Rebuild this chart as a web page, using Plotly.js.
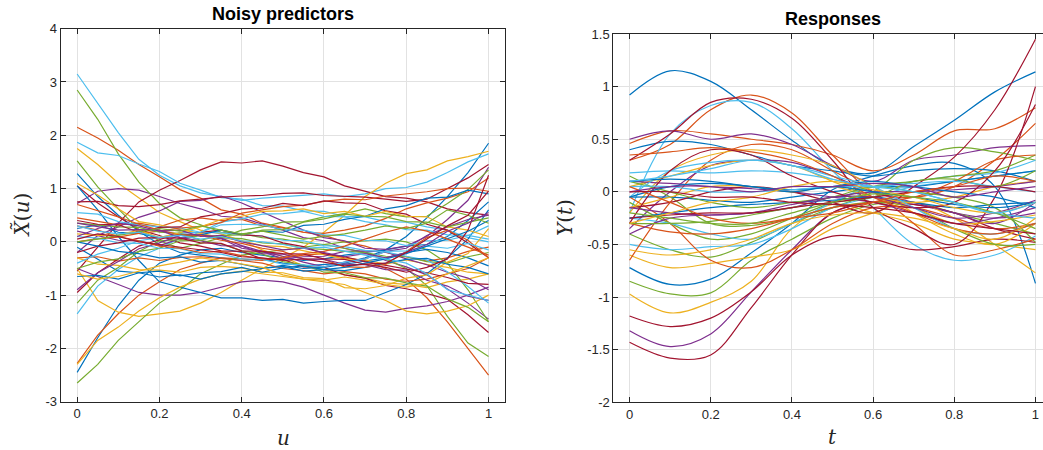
<!DOCTYPE html>
<html>
<head>
<meta charset="utf-8">
<script src="https://cdn.plot.ly/plotly-3.0.1.min.js"></script>
<style>html,body{margin:0;padding:0;overflow:hidden;background:#fff;}#chart{width:1052px;height:450px;}</style>
</head>
<body>
<div id="chart"></div>
<script>
// grid of evaluation points
const uGrid = [0,0.05,0.1,0.15,0.2,0.25,0.3,0.35,0.4,0.45,0.5,0.55,0.6,0.65,0.7,0.75,0.8,0.85,0.9,0.95,1];
const tGrid = [0,0.1,0.2,0.3,0.4,0.5,0.6,0.7,0.8,0.9,1];

// MATLAB default colour order
const lineColors = ['#0072BD','#D95319','#EDB120','#7E2F8E','#77AC30','#4DBEEE','#A2142F'];

// left panel: noisy predictors X~(u) (values at uGrid)
const noisyPredictors = [
  [1.28,0.85,0.5,0.2,-0.05,-0.2,-0.25,-0.3,-0.35,-0.32,-0.4,-0.45,-0.42,-0.4,-0.3,-0.15,0.1,0.45,0.85,1.3,1.85],
  [2.15,1.95,1.72,1.45,1.22,0.98,0.82,0.6,0.52,0.35,0.27,0.18,0.12,0.0,-0.08,-0.2,-0.28,-0.36,-0.3,-0.18,-0.1],
  [1.75,1.45,1.1,0.82,0.55,0.38,0.22,0.15,0.02,-0.15,-0.28,-0.45,-0.52,-0.62,-0.68,-0.77,-0.8,-0.86,-0.75,-0.7,-0.6],
  [0.72,0.95,1.0,0.97,0.85,0.72,0.62,0.48,0.45,0.33,0.22,0.08,0.02,-0.12,-0.2,-0.35,-0.47,-0.62,-0.88,-1.15,-1.45],
  [2.85,2.3,1.65,1.12,0.72,0.45,0.32,0.18,0.15,0.08,0.05,-0.02,-0.05,-0.12,-0.2,-0.32,-0.5,-0.82,-1.4,-1.9,-2.15],
  [3.15,2.6,2.05,1.55,1.25,1.05,0.92,0.85,0.78,0.82,0.85,0.87,0.9,0.85,0.9,1.0,1.02,1.12,1.3,1.5,1.65],
  [-0.55,-0.1,0.35,0.75,0.97,1.15,1.35,1.5,1.48,1.52,1.42,1.3,1.22,1.05,0.95,0.85,0.82,0.75,0.62,0.55,0.5],

  [-2.45,-1.8,-1.2,-0.72,-0.4,-0.25,-0.15,-0.12,-0.2,-0.25,-0.3,-0.35,-0.32,-0.25,-0.2,-0.15,-0.08,-0.05,0.1,0.4,0.75],
  [-2.28,-1.75,-1.35,-1.0,-0.75,-0.52,-0.4,-0.3,-0.32,-0.35,-0.3,-0.25,-0.22,-0.3,-0.35,-0.5,-0.7,-1.05,-1.5,-2.0,-2.5],
  [-0.5,-1.1,-1.32,-1.4,-1.35,-1.3,-1.15,-0.95,-0.72,-0.5,-0.3,-0.1,0.18,0.5,0.85,1.1,1.28,1.35,1.52,1.6,1.7],
  [-0.5,-0.65,-0.8,-0.95,-1.0,-1.0,-0.95,-0.85,-0.75,-0.72,-0.75,-0.85,-1.0,-1.15,-1.28,-1.32,-1.25,-1.2,-1.12,-1.0,-0.85],
  [-2.65,-2.3,-1.85,-1.5,-1.15,-0.9,-0.6,-0.42,-0.25,-0.2,-0.15,-0.1,-0.05,0.0,0.02,0.05,0.0,-0.15,-0.4,-0.9,-1.5],
  [1.87,1.67,1.62,1.46,1.32,1.1,0.97,0.83,0.8,0.68,0.67,0.58,0.57,0.48,0.47,0.38,0.37,0.28,0.22,0.08,0.0],
  [1.05,0.73,0.47,0.23,0.12,-0.02,-0.08,-0.17,-0.18,-0.32,-0.33,-0.47,-0.48,-0.62,-0.68,-0.82,-0.88,-0.97,-1.08,-1.37,-1.7],

  [1.05,0.6,0.1,-0.35,-0.75,-0.85,-0.95,-1.05,-1.05,-1.1,-1.08,-1.15,-1.12,-1.1,-1.1,-0.95,-0.8,-0.6,-0.3,0.05,0.6],
  [0.45,0.38,0.32,0.35,0.28,0.41,0.45,0.4,0.42,0.3,0.26,0.18,0.16,0.22,0.3,0.44,0.62,0.73,0.82,0.94,1.2],
  [-2.3,-1.85,-1.6,-1.3,-1.05,-0.85,-0.7,-0.6,-0.55,-0.6,-0.65,-0.7,-0.75,-0.8,-0.95,-1.1,-1.3,-1.35,-1.3,-1.2,-1.0],
  [-0.2,0.12,0.28,0.46,0.58,0.76,0.78,0.86,0.73,0.56,0.38,0.22,0.08,0.02,-0.12,-0.14,-0.08,0.1,0.42,0.78,1.4],
  [1.52,1.03,0.62,0.23,0.02,-0.12,-0.03,0.08,0.22,0.28,0.37,0.38,0.47,0.53,0.62,0.53,0.47,0.48,0.72,0.98,1.35],
  [-1.35,-0.83,-0.52,-0.28,-0.12,0.07,0.18,0.37,0.43,0.52,0.53,0.57,0.48,0.47,0.38,0.32,0.23,0.22,0.13,0.12,0.05],
  [0.75,0.76,0.68,0.66,0.7,0.77,0.8,0.84,0.86,0.87,0.91,0.92,0.87,0.86,0.84,0.8,0.76,0.8,1.0,1.2,1.45],

  [-0.1,-0.32,-0.55,-0.58,-0.66,-0.62,-0.7,-0.6,-0.56,-0.5,-0.44,-0.5,-0.48,-0.42,-0.36,-0.3,-0.2,-0.14,-0.2,-0.3,-0.45],
  [-0.3,-0.28,-0.36,-0.3,-0.35,-0.29,-0.28,-0.31,-0.35,-0.4,-0.5,-0.54,-0.6,-0.56,-0.6,-0.7,-0.74,-0.7,-0.6,-0.5,-0.3],
  [1.1,0.88,0.62,0.38,0.32,0.23,0.16,0.08,0.02,-0.07,-0.09,-0.17,-0.24,-0.32,-0.34,-0.42,-0.34,-0.42,-0.48,-0.57,-0.6],
  [0.2,0.12,0.03,0.02,-0.07,0.06,0.13,0.06,-0.12,-0.18,-0.32,-0.28,-0.27,-0.18,-0.17,-0.19,-0.32,-0.43,-0.57,-0.68,-0.9],
  [-1.15,-0.72,-0.48,-0.18,0.02,0.04,0.12,0.08,0.06,-0.02,-0.04,-0.12,-0.14,-0.18,-0.2,-0.27,-0.28,-0.37,-0.4,-0.28,-0.2],
  [0.55,0.52,0.38,0.32,0.28,0.26,0.18,0.17,0.13,0.11,0.03,0.02,-0.07,-0.09,-0.16,-0.19,-0.27,-0.34,-0.56,-0.84,-1.15],
  [-0.95,-0.58,-0.32,-0.08,0.04,0.17,0.18,0.22,0.13,0.11,-0.02,-0.09,-0.22,-0.28,-0.37,-0.44,-0.52,-0.58,-0.67,-0.78,-0.8],

  [0.25,0.32,0.18,0.16,0.08,0.14,0.13,0.22,0.14,0.2,0.18,0.31,0.33,0.42,0.48,0.62,0.68,0.82,0.84,0.97,0.9],
  [0.0,0.06,0.09,0.16,0.2,0.26,0.29,0.36,0.54,0.6,0.66,0.69,0.76,0.8,0.79,0.86,0.9,0.94,1.0,1.01,0.95],
  [-0.3,-0.42,-0.44,-0.52,-0.53,-0.57,-0.48,-0.46,-0.49,-0.57,-0.58,-0.67,-0.69,-0.86,-0.88,-0.82,-0.68,-0.62,-0.38,-0.22,0.25],
  [-0.9,-0.58,-0.37,-0.13,-0.02,0.12,0.13,0.07,-0.07,-0.18,-0.27,-0.38,-0.47,-0.38,-0.32,-0.18,-0.12,0.12,0.28,0.42,0.5],
  [0.35,0.32,0.28,0.27,0.18,0.16,0.03,-0.04,-0.17,-0.23,-0.37,-0.43,-0.57,-0.58,-0.67,-0.68,-0.77,-0.83,-1.07,-1.23,-1.5],
  [-0.4,-0.23,-0.12,0.02,0.08,0.17,0.18,0.32,0.33,0.32,0.23,0.22,0.13,0.12,0.03,0.02,-0.07,0.02,0.03,0.12,0.3],
  [0.4,0.33,0.32,0.18,0.27,0.28,0.47,0.53,0.62,0.63,0.72,0.68,0.77,0.73,0.72,0.58,0.52,0.33,0.22,-0.02,-0.3],

  [-0.65,-0.63,-0.7,-0.58,-0.55,-0.64,-0.58,-0.56,-0.48,-0.57,-0.49,-0.45,-0.52,-0.54,-0.48,-0.41,-0.33,-0.31,-0.42,-0.48,-0.6],
  [0.7,0.58,0.47,0.33,0.22,0.13,0.12,0.03,-0.03,-0.12,-0.18,-0.32,-0.33,-0.47,-0.48,-0.42,-0.18,0.08,0.22,0.03,-0.3],
  [0.15,0.12,0.13,0.22,0.08,0.17,0.28,0.42,0.48,0.57,0.58,0.62,0.53,0.57,0.48,0.57,0.48,0.47,0.28,0.22,0.1],
  [0.35,0.28,0.22,0.23,0.22,0.08,0.02,-0.07,-0.08,-0.22,-0.23,-0.32,-0.33,-0.42,-0.43,-0.52,-0.53,-0.72,-0.83,-1.02,-1.1],
  [-0.5,-0.38,-0.32,-0.18,-0.12,0.02,0.03,0.12,0.13,0.22,0.23,0.37,0.43,0.52,0.48,0.47,0.38,0.37,0.28,0.37,0.45],
  [0.1,0.07,-0.02,-0.03,-0.12,-0.13,-0.22,-0.23,-0.32,-0.33,-0.42,-0.43,-0.47,-0.38,-0.32,-0.18,-0.17,-0.08,-0.12,-0.03,-0.15],
  [-0.2,-0.08,-0.02,0.07,0.08,0.07,-0.02,-0.03,-0.17,-0.18,-0.22,-0.23,-0.32,-0.33,-0.42,-0.48,-0.57,-0.48,-0.32,0.22,1.25],

  [0.0,-0.08,-0.18,-0.22,-0.3,-0.28,-0.38,-0.35,-0.42,-0.5,-0.46,-0.55,-0.52,-0.48,-0.4,-0.32,-0.22,-0.08,0.05,0.2,0.4],
  [0.3,0.22,0.1,0.02,-0.08,-0.12,-0.2,-0.18,-0.26,-0.32,-0.3,-0.22,-0.18,-0.08,0.05,0.18,0.28,0.2,0.05,-0.1,-0.25],
  [-0.6,-0.7,-0.65,-0.55,-0.45,-0.38,-0.3,-0.35,-0.42,-0.48,-0.62,-0.7,-0.72,-0.66,-0.72,-0.8,-0.85,-0.78,-0.6,-0.45,-0.3],
  [0.1,0.25,0.35,0.3,0.2,0.22,0.1,0.12,0.0,-0.08,-0.15,-0.12,-0.2,-0.28,-0.22,-0.3,-0.2,-0.05,0.2,0.35,0.55],
  [0.0,0.05,0.12,0.18,0.25,0.2,0.3,0.22,0.15,0.2,0.12,0.05,0.1,0.15,0.22,0.3,0.25,0.35,0.6,0.5,0.35],
  [0.3,0.2,0.15,0.18,0.08,0.12,0.05,0.1,0.02,0.0,-0.05,-0.12,-0.1,-0.18,-0.25,-0.32,-0.4,-0.6,-0.9,-1.0,-1.1],
  [0.05,0.15,0.1,0.0,-0.05,-0.1,-0.15,-0.2,-0.28,-0.3,-0.35,-0.32,-0.38,-0.45,-0.42,-0.4,-0.2,0.05,0.3,0.5,0.95]
];

// right panel: responses Y(t) (values at tGrid)
const responses = [
  [0.92,1.15,1.05,0.78,0.49,0.24,0.18,0.43,0.68,0.95,1.14],
  [0.3,0.45,0.78,0.92,0.75,0.35,0.0,-0.05,0.05,0.3,0.65],
  [-0.97,-1.15,-1.05,-0.85,-0.35,-0.12,-0.2,-0.3,-0.45,-0.5,-0.55],
  [-1.32,-1.47,-1.35,-0.95,-0.55,-0.2,-0.1,-0.12,-0.2,-0.25,-0.2],
  [-0.85,-0.97,-0.96,-0.65,-0.45,-0.25,-0.12,-0.1,-0.2,-0.3,-0.4],
  [-0.2,0.55,0.82,0.85,0.6,0.2,-0.15,-0.5,-0.65,-0.6,-0.42],
  [-1.43,-1.58,-1.55,-1.1,-0.6,-0.2,-0.1,-0.12,-0.2,-0.35,-0.45],

  [-0.72,-0.88,-0.83,-0.58,-0.3,0.02,0.15,0.25,0.27,0.05,-0.87],
  [0.46,0.58,0.55,0.5,0.45,0.35,0.2,0.35,0.58,0.6,0.8],
  [-0.6,-0.72,-0.68,-0.62,-0.55,-0.35,-0.2,-0.1,-0.25,-0.5,-0.77],
  [0.5,0.58,0.5,0.55,0.45,0.25,0.1,0.3,0.35,0.42,0.44],
  [-0.4,-0.55,-0.62,-0.48,-0.3,-0.15,0.0,0.3,0.42,0.38,0.3],
  [-0.5,-0.55,-0.52,-0.5,-0.35,-0.15,-0.05,0.05,0.1,0.15,0.2],
  [-1.18,-1.28,-1.2,-0.95,-0.6,-0.42,-0.45,-0.55,-0.52,-0.45,-0.48],

  [0.4,0.48,0.45,0.35,0.25,0.2,0.15,0.2,0.22,0.2,0.1],
  [-0.65,-0.1,0.3,0.45,0.4,0.2,0.0,-0.3,-0.6,-0.55,-0.45],
  [-0.2,0.2,0.35,0.4,0.35,0.25,0.05,-0.2,-0.4,-0.5,-0.3],
  [-0.35,0.0,0.25,0.3,0.28,0.15,0.0,-0.1,-0.2,-0.3,-0.1],
  [0.15,-0.05,-0.3,-0.32,-0.25,-0.15,-0.1,-0.15,-0.35,-0.5,-0.5],
  [0.18,0.2,0.18,0.2,0.18,0.12,0.05,0.1,0.15,0.18,0.3],
  [0.3,0.55,0.85,0.88,0.7,0.3,-0.15,-0.35,-0.5,-0.05,1.0],

  [-0.05,-0.05,-0.08,-0.1,-0.05,0.0,0.05,0.05,0.1,0.15,0.2],
  [-0.05,-0.3,-0.65,-0.72,-0.55,-0.3,-0.15,-0.15,-0.25,-0.35,-0.3],
  [0.05,0.15,0.25,0.3,0.25,0.1,-0.05,-0.15,-0.3,-0.28,-0.22],
  [0.1,0.08,0.05,0.03,0.0,-0.05,-0.1,-0.2,-0.3,-0.25,-0.15],
  [-0.1,-0.3,-0.45,-0.4,-0.25,-0.1,0.05,0.1,0.15,0.2,0.35],
  [-0.25,-0.3,-0.4,-0.45,-0.3,-0.1,0.05,0.0,-0.1,-0.2,-0.25],
  [-0.15,-0.1,0.0,0.05,0.0,-0.1,-0.2,0.05,0.33,0.78,1.45],

  [-0.25,-0.2,-0.15,-0.12,-0.1,-0.08,-0.05,-0.1,-0.15,-0.12,-0.1],
  [-0.3,-0.38,-0.4,-0.35,-0.25,-0.15,-0.1,-0.05,0.1,0.3,0.35],
  [-0.15,-0.05,0.05,0.05,0.0,0.05,-0.05,-0.1,-0.05,0.05,0.1],
  [-0.15,-0.2,-0.22,-0.2,-0.15,-0.05,0.0,0.0,0.02,0.05,0.1],
  [0.1,0.0,-0.1,-0.15,-0.1,-0.05,0.05,0.0,-0.05,-0.15,-0.48],
  [-0.05,0.2,0.28,0.3,0.25,0.15,0.05,-0.15,-0.35,-0.4,-0.3],
  [-0.3,0.2,0.4,0.35,0.15,0.0,-0.1,-0.15,-0.1,0.2,0.83],

  [0.1,0.12,0.1,0.05,0.02,0.05,0.1,0.05,0.0,-0.05,-0.15],
  [0.35,0.38,0.42,0.38,0.3,0.15,-0.05,-0.2,-0.35,-0.4,-0.3],
  [-0.55,-0.6,-0.55,-0.45,-0.3,-0.22,-0.2,-0.25,-0.35,-0.45,-0.25],
  [-0.4,-0.25,-0.22,-0.2,-0.12,-0.05,-0.05,-0.15,-0.25,-0.2,-0.08],
  [-0.3,-0.3,-0.28,-0.22,-0.15,-0.1,-0.05,0.1,0.12,0.05,0.2],
  [0.05,0.05,0.0,0.0,0.02,0.05,0.05,0.08,0.1,0.05,0.0],
  [-0.25,-0.22,-0.2,-0.2,-0.15,-0.1,-0.05,0.0,0.05,0.05,0.0],

  [-0.05,0.05,0.08,0.05,0.0,0.05,0.0,-0.05,-0.12,-0.15,-0.1],
  [0.05,-0.1,-0.25,-0.3,-0.25,-0.2,-0.1,0.0,0.05,0.15,0.1],
  [-0.3,-0.2,-0.1,-0.05,0.05,0.1,0.02,-0.05,-0.15,-0.2,-0.1],
  [0.0,0.05,0.05,0.0,0.05,0.05,0.08,0.05,-0.05,0.0,0.05],
  [-0.2,-0.25,-0.3,-0.3,-0.2,-0.1,-0.02,-0.05,-0.1,-0.2,-0.35],
  [0.1,0.15,0.22,0.3,0.25,0.12,0.05,0.0,-0.1,-0.2,-0.1],
  [0.0,0.0,-0.05,-0.05,-0.1,-0.12,-0.15,-0.2,-0.3,-0.35,-0.4]
];

// tick labels
const xTickVals = [0,0.2,0.4,0.6,0.8,1];
const xTickText = ['0','0.2','0.4','0.6','0.8','1'];
const leftYTickVals = [-3,-2,-1,0,1,2,3,4];
const leftYTickText = ['-3','-2','-1','0','1','2','3','4'];
const rightYTickVals = [-2,-1.5,-1,-0.5,0,0.5,1,1.5];
const rightYTickText = ['-2','-1.5','-1','-0.5','0','0.5','1','1.5'];

const W = 1052, H = 450;
const traces = [];
noisyPredictors.forEach((vals, i) => {
  traces.push({x: uGrid, y: vals, type: 'scatter', mode: 'lines', xaxis: 'x', yaxis: 'y',
    line: {color: lineColors[i % 7], width: 1.2}, hoverinfo: 'skip', showlegend: false});
});
responses.forEach((vals, i) => {
  traces.push({x: tGrid, y: vals, type: 'scatter', mode: 'lines', xaxis: 'x2', yaxis: 'y2',
    line: {color: lineColors[i % 7], width: 1.2, shape: 'spline', smoothing: 1}, hoverinfo: 'skip', showlegend: false});
});

const tickFont = {family: 'Liberation Sans, Arial, Helvetica, sans-serif', size: 13, color: '#262626'};
function axisBase(extra) {
  return Object.assign({
    ticks: 'inside', ticklen: 5, tickcolor: '#262626', tickwidth: 1,
    showline: true, linecolor: '#262626', linewidth: 1, mirror: 'ticks',
    showgrid: true, gridcolor: '#e2e2e2', gridwidth: 1, zeroline: false,
    tickfont: tickFont, tickmode: 'array', fixedrange: true
  }, extra);
}

const layout = {
  width: W, height: H,
  margin: {l: 0, r: 0, t: 0, b: 0},
  paper_bgcolor: '#ffffff', plot_bgcolor: '#ffffff',
  showlegend: false,
  xaxis: axisBase({domain: [60.7 / W, 505 / W], range: [-0.04, 1.04], tickvals: xTickVals, ticktext: xTickText, anchor: 'y'}),
  yaxis: axisBase({domain: [1 - 401.7 / H, 1 - 28.7 / H], range: [-3, 4], tickvals: leftYTickVals, ticktext: leftYTickText, anchor: 'x'}),
  xaxis2: axisBase({domain: [613.3 / W, 1051.7 / W], range: [-0.04, 1.04], tickvals: xTickVals, ticktext: xTickText, anchor: 'y2'}),
  yaxis2: axisBase({domain: [1 - 402.3 / H, 1 - 34 / H], range: [-2, 1.5], tickvals: rightYTickVals, ticktext: rightYTickText, anchor: 'x2'}),
  annotations: [
    {text: '<b>Noisy predictors</b>', xref: 'paper', yref: 'paper', x: 283 / W, y: 1 - 13.5 / H, showarrow: false,
      xanchor: 'center', yanchor: 'middle', font: {family: 'Liberation Sans, Arial, sans-serif', size: 18, color: '#000'}},
    {text: '<b>Responses</b>', xref: 'paper', yref: 'paper', x: 832.7 / W, y: 1 - 19 / H, showarrow: false,
      xanchor: 'center', yanchor: 'middle', font: {family: 'Liberation Sans, Arial, sans-serif', size: 18, color: '#000'}},
    {text: '<i>X̃</i>(<i>u</i>)', xref: 'paper', yref: 'paper', x: 21.5 / W, y: 1 - 215 / H, showarrow: false, textangle: -90,
      xanchor: 'center', yanchor: 'middle', font: {family: 'DejaVu Serif, Liberation Serif, serif', size: 20, color: '#262626'}},
    {text: '<i>Y</i>(<i>t</i>)', xref: 'paper', yref: 'paper', x: 565 / W, y: 1 - 218 / H, showarrow: false, textangle: -90,
      xanchor: 'center', yanchor: 'middle', font: {family: 'DejaVu Serif, Liberation Serif, serif', size: 20, color: '#262626'}},
    {text: '<i>u</i>', xref: 'paper', yref: 'paper', x: 283 / W, y: 1 - 438 / H, showarrow: false,
      xanchor: 'center', yanchor: 'middle', font: {family: 'DejaVu Serif, Liberation Serif, serif', size: 20, color: '#262626'}},
    {text: '<i>t</i>', xref: 'paper', yref: 'paper', x: 832 / W, y: 1 - 437 / H, showarrow: false,
      xanchor: 'center', yanchor: 'middle', font: {family: 'DejaVu Serif, Liberation Serif, serif', size: 20, color: '#262626'}}
  ]
};

Plotly.newPlot('chart', traces, layout, {staticPlot: true, displayModeBar: false});
</script>
</body>
</html>
